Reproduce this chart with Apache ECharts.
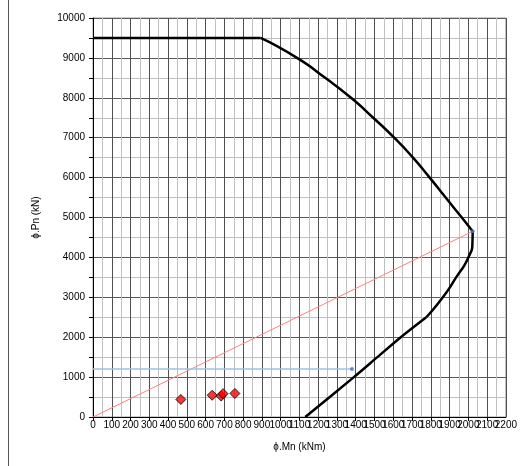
<!DOCTYPE html>
<html>
<head>
<meta charset="utf-8">
<script src="https://cdn.jsdelivr.net/npm/echarts@6/dist/echarts.min.js"></script>
<style>html,body{margin:0;padding:0;background:#fff}#c{width:520px;height:466px}</style>
</head>
<body>
<div id="c"></div>
<script>
// Interaction diagram segments [Mn, Pn]
const flatTop = [[0, 9500], [893, 9500]];
const upperCurve = [[893, 9500], [1087, 9000], [1237, 8500], [1375, 8000], [1493, 7500], [1605, 7000], [1705, 6500], [1794, 6000], [1879, 5500], [1965, 5000], [2023, 4654]];
const lowerCurve = [[2023, 4654], [2022, 4400], [2000, 4000], [1935, 3500], [1864, 3000], [1776, 2500]];
const tensionLine = [[1776, 2500], [1640, 2000], [1515, 1500], [1390, 1000], [1131, 0]];
const eccentricLine = [[0, 0], [2023, 4654]];
const demandLine = [[0, 1200], [1380, 1200]];
const bluePoints = [[1380, 1200], [2023, 4654]];
const loadPoints = [[468, 440], [635, 545], [683, 525], [693, 585], [756, 590]];
const xMax = 2200;

const chart = echarts.init(document.getElementById('c'), null, {renderer: 'canvas'});
const blackLine = {color: '#000', width: 2.5};
const font = 'Liberation Sans, Arial, sans-serif';
const plain = v => String(v);
const xBase = {
  type: 'value', min: 0, max: xMax, interval: 100, gridIndex: 0
};
chart.setOption({
  animation: false,
  backgroundColor: '#fff',
  grid: {left: 93, right: 12, top: 18, bottom: 49, show: true, borderColor: '#9a9a9a', borderWidth: 1},
  xAxis: [Object.assign({}, xBase, {
    name: 'ϕ.Mn (kNm)', nameLocation: 'middle', nameGap: 25,
    nameTextStyle: {fontSize: 10, color: '#000', fontFamily: font},
    axisLine: {lineStyle: {color: '#000', width: 1}},
    axisTick: {show: true, length: 4, lineStyle: {color: '#000'}},
    axisLabel: {fontSize: 10, color: '#000', fontFamily: font, margin: 3, showMinLabel: true, showMaxLabel: false, formatter: plain},
    splitLine: {show: true, lineStyle: {color: '#505050', width: 1}},
    minorTick: {show: false, splitNumber: 2},
    minorSplitLine: {show: true, lineStyle: {color: '#c0c0c0', width: 1}}
  }), Object.assign({}, xBase, {
    position: 'bottom',
    axisLine: {show: false}, axisTick: {show: false},
    splitLine: {show: false},
    axisLabel: {fontSize: 10, color: '#000', fontFamily: font, margin: 3, showMinLabel: false, showMaxLabel: true,
      formatter: v => (v === xMax ? String(v) : '')}
  })],
  yAxis: {
    type: 'value', min: 0, max: 10000, interval: 1000,
    name: 'ϕ.Pn (kN)', nameLocation: 'middle', nameGap: 52, nameRotate: 90,
    nameTextStyle: {fontSize: 10, color: '#000', fontFamily: font},
    axisLine: {show: true, lineStyle: {color: '#000', width: 1}},
    axisTick: {show: true, length: 4, lineStyle: {color: '#000'}},
    minorTick: {show: true, splitNumber: 2, length: 4, lineStyle: {color: '#000'}},
    axisLabel: {fontSize: 10, color: '#000', fontFamily: font, margin: 8, showMaxLabel: true, formatter: plain},
    splitLine: {show: true, lineStyle: {color: '#5a5a5a', width: 1}},
    minorSplitLine: {show: true, lineStyle: {color: '#c0c0c0', width: 1}}
  },
  graphic: [{type: 'line', shape: {x1: 8.5, y1: 0, x2: 8.5, y2: 466}, style: {stroke: '#555', lineWidth: 1}, silent: true}],
  series: [
    {type: 'line', data: eccentricLine, showSymbol: false, lineStyle: {color: '#ff7f7f', width: 1}, z: 3},
    {type: 'line', data: demandLine, showSymbol: false, lineStyle: {color: '#9dc3e6', width: 1.5}, z: 3},
    {type: 'line', data: flatTop, showSymbol: false, lineStyle: blackLine, z: 4},
    {type: 'line', data: upperCurve, showSymbol: false, smooth: 0.6, lineStyle: blackLine, z: 4},
    {type: 'line', data: lowerCurve, showSymbol: false, smooth: 0.6, lineStyle: blackLine, z: 4},
    {type: 'line', data: tensionLine, showSymbol: false, smooth: 0.3, lineStyle: blackLine, z: 4},
    {type: 'scatter', data: bluePoints, symbol: 'circle', symbolSize: 4, itemStyle: {color: '#4472c4'}, z: 5},
    {type: 'scatter', data: loadPoints, symbol: 'diamond', symbolSize: 10, itemStyle: {color: '#ff0000', borderColor: '#000', borderWidth: 1}, z: 6}
  ]
});
</script>
</body>
</html>
